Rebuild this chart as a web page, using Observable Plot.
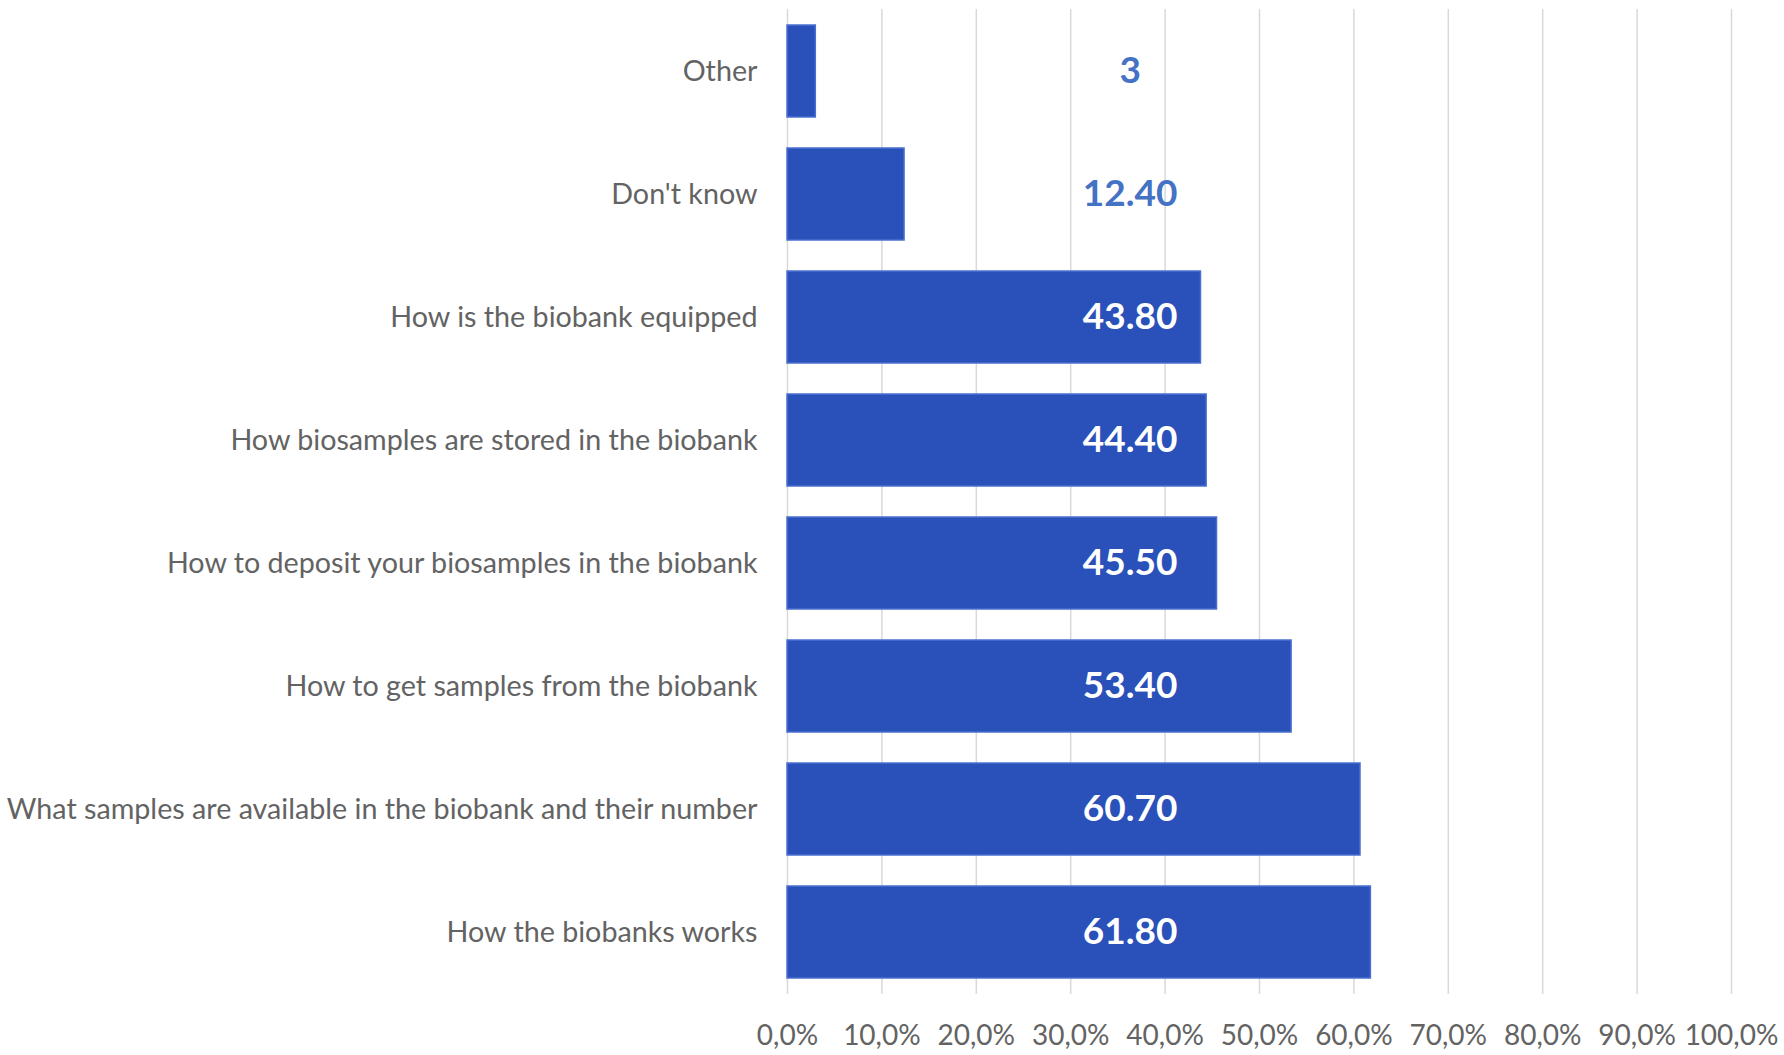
<!DOCTYPE html>
<html>
<head>
<meta charset="utf-8">
<script src="https://cdn.jsdelivr.net/npm/d3@7"></script>
<script src="https://cdn.jsdelivr.net/npm/@observablehq/plot@0.6"></script>
<style>
  html, body { margin: 0; padding: 0; background: #ffffff; }
  #chart { width: 1784px; height: 1055px; }
</style>
</head>
<body>
<div id="chart"></div>
<script>
// Categories (top to bottom)
const categories = [
  "Other",
  "Don't know",
  "How is the biobank equipped",
  "How biosamples are stored in the biobank",
  "How to deposit your biosamples in the biobank",
  "How to get samples from the biobank",
  "What samples are available in the biobank and their number",
  "How the biobanks works"
];
// Percent of respondents
const values = [3, 12.4, 43.8, 44.4, 45.5, 53.4, 60.7, 61.8];
// Data labels as printed
const valueLabels = ["3", "12.40", "43.80", "44.40", "45.50", "53.40", "60.70", "61.80"];
// X tick values
const xTicks = [0, 10, 20, 30, 40, 50, 60, 70, 80, 90, 100];

const data = categories.map((c, i) => ({category: c, value: values[i], label: valueLabels[i]}));
const fmt = d => d.toFixed(1).replace(".", ",") + "%";

const chart = Plot.plot({
  width: 1784,
  height: 1055,
  marginLeft: 787,
  marginRight: 53,
  marginTop: 9,
  marginBottom: 61,
  style: {fontFamily: "Lato, 'Open Sans', sans-serif", background: "#ffffff", overflow: "visible"},
  x: {domain: [0, 100], ticks: xTicks, label: null},
  y: {domain: categories, paddingInner: 0.25, paddingOuter: 0.1, label: null},
  marks: [
    Plot.ruleX(xTicks, {x: d => d, stroke: "#d9d9d9", strokeWidth: 1.5}),
    Plot.barX(data, {x: "value", y: "category", fill: "#2a50b9", stroke: "#4a70cf", strokeWidth: 1.5}),
    Plot.text(data, {
      x: () => 36.3, y: "category", text: "label",
      fill: d => d.value < 20 ? "#4472c4" : "#ffffff",
      fontSize: 37, fontWeight: "bold"
    }),
    Plot.axisX({ticks: xTicks, tickFormat: fmt, tickSize: 0, tickPadding: 31, fontSize: 28, color: "#636363", label: null}),
    Plot.axisY({tickSize: 0, tickPadding: 30, fontSize: 28.7, color: "#636363", label: null})
  ]
});
document.getElementById("chart").appendChild(chart);
</script>
</body>
</html>
